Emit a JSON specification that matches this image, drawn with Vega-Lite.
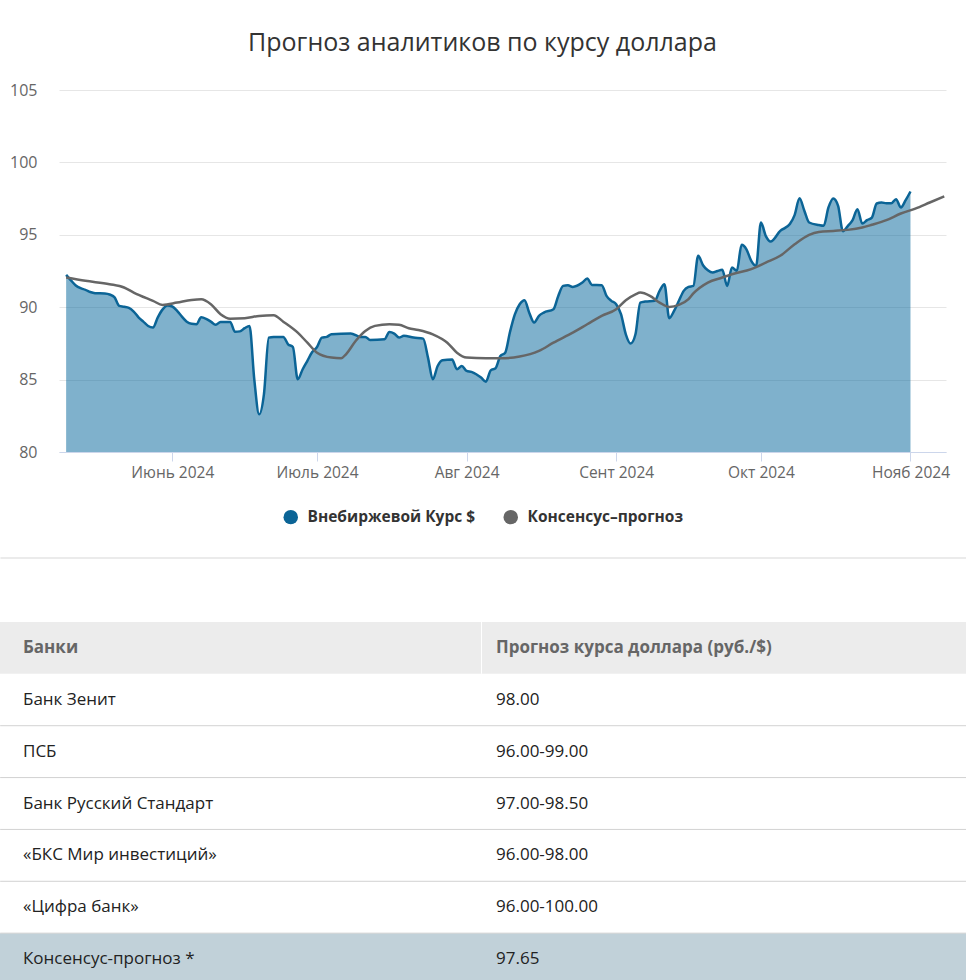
{
  "$schema": "https://vega.github.io/schema/vega-lite/v6.json",
  "background": "#ffffff",
  "padding": {"left": -2, "top": 31, "right": 0, "bottom": 0},
  "bounds": "flush",
  "spacing": 170,
  "config": {"view": {"stroke": null}, "font": "Open Sans"},
  "datasets": {
    "kurs": [
      {"date": "2024-05-10", "value": 92.23}, {"date": "2024-05-11", "value": 91.85}, {"date": "2024-05-12", "value": 91.5},
      {"date": "2024-05-13", "value": 91.31}, {"date": "2024-05-14", "value": 91.2}, {"date": "2024-05-15", "value": 91.05},
      {"date": "2024-05-16", "value": 90.97}, {"date": "2024-05-18", "value": 90.94}, {"date": "2024-05-19", "value": 90.88},
      {"date": "2024-05-20", "value": 90.7}, {"date": "2024-05-21", "value": 90.09}, {"date": "2024-05-22", "value": 90.03},
      {"date": "2024-05-23", "value": 89.95}, {"date": "2024-05-24", "value": 89.7}, {"date": "2024-05-25", "value": 89.3},
      {"date": "2024-05-26", "value": 89.0}, {"date": "2024-05-27", "value": 88.7}, {"date": "2024-05-28", "value": 88.6},
      {"date": "2024-05-29", "value": 89.3}, {"date": "2024-05-30", "value": 89.85}, {"date": "2024-05-31", "value": 90.12},
      {"date": "2024-06-01", "value": 90.05}, {"date": "2024-06-02", "value": 89.75}, {"date": "2024-06-03", "value": 89.35},
      {"date": "2024-06-04", "value": 89.0}, {"date": "2024-06-05", "value": 88.85}, {"date": "2024-06-06", "value": 88.82},
      {"date": "2024-06-07", "value": 89.3}, {"date": "2024-06-08", "value": 89.2}, {"date": "2024-06-09", "value": 89.0},
      {"date": "2024-06-10", "value": 88.78}, {"date": "2024-06-11", "value": 88.98}, {"date": "2024-06-13", "value": 88.98},
      {"date": "2024-06-14", "value": 88.3}, {"date": "2024-06-15", "value": 88.33}, {"date": "2024-06-16", "value": 88.55},
      {"date": "2024-06-17", "value": 88.7}, {"date": "2024-06-18", "value": 85.0}, {"date": "2024-06-19", "value": 82.6},
      {"date": "2024-06-20", "value": 84.0}, {"date": "2024-06-21", "value": 87.9}, {"date": "2024-06-22", "value": 87.95},
      {"date": "2024-06-24", "value": 87.95}, {"date": "2024-06-25", "value": 87.44}, {"date": "2024-06-26", "value": 87.25},
      {"date": "2024-06-27", "value": 85.02}, {"date": "2024-06-28", "value": 85.7}, {"date": "2024-06-29", "value": 86.3},
      {"date": "2024-06-30", "value": 86.9}, {"date": "2024-07-01", "value": 87.25}, {"date": "2024-07-02", "value": 87.9},
      {"date": "2024-07-03", "value": 87.95}, {"date": "2024-07-04", "value": 88.13}, {"date": "2024-07-08", "value": 88.18},
      {"date": "2024-07-10", "value": 87.95}, {"date": "2024-07-11", "value": 87.95}, {"date": "2024-07-12", "value": 87.74},
      {"date": "2024-07-15", "value": 87.79}, {"date": "2024-07-16", "value": 88.29}, {"date": "2024-07-17", "value": 88.18},
      {"date": "2024-07-18", "value": 87.9}, {"date": "2024-07-19", "value": 88.02}, {"date": "2024-07-21", "value": 87.9},
      {"date": "2024-07-23", "value": 87.83}, {"date": "2024-07-24", "value": 86.52}, {"date": "2024-07-25", "value": 85.02},
      {"date": "2024-07-26", "value": 85.94}, {"date": "2024-07-27", "value": 86.34}, {"date": "2024-07-29", "value": 86.38},
      {"date": "2024-07-30", "value": 85.71}, {"date": "2024-07-31", "value": 85.94}, {"date": "2024-08-01", "value": 85.6},
      {"date": "2024-08-02", "value": 85.53}, {"date": "2024-08-03", "value": 85.37}, {"date": "2024-08-04", "value": 85.14},
      {"date": "2024-08-05", "value": 84.86}, {"date": "2024-08-06", "value": 85.64}, {"date": "2024-08-07", "value": 85.78},
      {"date": "2024-08-08", "value": 86.63}, {"date": "2024-08-09", "value": 86.86}, {"date": "2024-08-10", "value": 88.3},
      {"date": "2024-08-11", "value": 89.5}, {"date": "2024-08-12", "value": 90.2}, {"date": "2024-08-13", "value": 90.48},
      {"date": "2024-08-14", "value": 89.6}, {"date": "2024-08-15", "value": 88.94}, {"date": "2024-08-16", "value": 89.4},
      {"date": "2024-08-17", "value": 89.63}, {"date": "2024-08-19", "value": 89.86}, {"date": "2024-08-20", "value": 90.78},
      {"date": "2024-08-21", "value": 91.47}, {"date": "2024-08-22", "value": 91.52}, {"date": "2024-08-23", "value": 91.4},
      {"date": "2024-08-25", "value": 91.7}, {"date": "2024-08-26", "value": 91.98}, {"date": "2024-08-27", "value": 91.54},
      {"date": "2024-08-29", "value": 91.52}, {"date": "2024-08-30", "value": 90.78}, {"date": "2024-08-31", "value": 90.44},
      {"date": "2024-09-01", "value": 90.21}, {"date": "2024-09-02", "value": 89.52}, {"date": "2024-09-03", "value": 88.13},
      {"date": "2024-09-04", "value": 87.49}, {"date": "2024-09-05", "value": 88.13}, {"date": "2024-09-06", "value": 90.32},
      {"date": "2024-09-07", "value": 90.39}, {"date": "2024-09-09", "value": 90.44}, {"date": "2024-09-10", "value": 91.13},
      {"date": "2024-09-11", "value": 91.59}, {"date": "2024-09-12", "value": 89.24}, {"date": "2024-09-13", "value": 89.74},
      {"date": "2024-09-14", "value": 90.44}, {"date": "2024-09-15", "value": 91.13}, {"date": "2024-09-16", "value": 91.4},
      {"date": "2024-09-17", "value": 91.47}, {"date": "2024-09-18", "value": 93.55}, {"date": "2024-09-19", "value": 92.9},
      {"date": "2024-09-20", "value": 92.55}, {"date": "2024-09-21", "value": 92.39}, {"date": "2024-09-22", "value": 92.5},
      {"date": "2024-09-23", "value": 92.58}, {"date": "2024-09-24", "value": 91.47}, {"date": "2024-09-25", "value": 92.74},
      {"date": "2024-09-26", "value": 92.51}, {"date": "2024-09-27", "value": 94.31}, {"date": "2024-09-28", "value": 94.0},
      {"date": "2024-09-29", "value": 93.2}, {"date": "2024-09-30", "value": 92.85}, {"date": "2024-10-01", "value": 95.85},
      {"date": "2024-10-02", "value": 94.93}, {"date": "2024-10-03", "value": 94.53}, {"date": "2024-10-05", "value": 95.27},
      {"date": "2024-10-07", "value": 95.74}, {"date": "2024-10-08", "value": 96.38}, {"date": "2024-10-09", "value": 97.53},
      {"date": "2024-10-10", "value": 96.66}, {"date": "2024-10-11", "value": 95.85}, {"date": "2024-10-13", "value": 95.67},
      {"date": "2024-10-14", "value": 95.62}, {"date": "2024-10-15", "value": 96.89}, {"date": "2024-10-16", "value": 97.51},
      {"date": "2024-10-17", "value": 97.0}, {"date": "2024-10-18", "value": 95.25}, {"date": "2024-10-19", "value": 95.6},
      {"date": "2024-10-20", "value": 96.01}, {"date": "2024-10-21", "value": 96.77}, {"date": "2024-10-22", "value": 95.78},
      {"date": "2024-10-23", "value": 96.01}, {"date": "2024-10-24", "value": 96.19}, {"date": "2024-10-25", "value": 97.16},
      {"date": "2024-10-26", "value": 97.23}, {"date": "2024-10-27", "value": 97.18}, {"date": "2024-10-28", "value": 97.18},
      {"date": "2024-10-29", "value": 97.46}, {"date": "2024-10-30", "value": 96.89}, {"date": "2024-10-31", "value": 97.39},
      {"date": "2024-11-01", "value": 97.99}
    ],
    "prognoz": [
      {"date": "2024-05-10", "value": 92.05}, {"date": "2024-05-14", "value": 91.82}, {"date": "2024-05-19", "value": 91.59},
      {"date": "2024-05-22", "value": 91.36}, {"date": "2024-05-24", "value": 91.01}, {"date": "2024-05-28", "value": 90.44},
      {"date": "2024-05-30", "value": 90.16}, {"date": "2024-06-02", "value": 90.32}, {"date": "2024-06-05", "value": 90.5},
      {"date": "2024-06-07", "value": 90.55}, {"date": "2024-06-09", "value": 90.21}, {"date": "2024-06-11", "value": 89.52},
      {"date": "2024-06-13", "value": 89.21}, {"date": "2024-06-16", "value": 89.24}, {"date": "2024-06-19", "value": 89.4},
      {"date": "2024-06-22", "value": 89.45}, {"date": "2024-06-24", "value": 89.0}, {"date": "2024-06-27", "value": 88.24},
      {"date": "2024-06-29", "value": 87.55}, {"date": "2024-07-01", "value": 86.86}, {"date": "2024-07-04", "value": 86.52},
      {"date": "2024-07-06", "value": 86.47}, {"date": "2024-07-07", "value": 86.75}, {"date": "2024-07-09", "value": 87.67},
      {"date": "2024-07-11", "value": 88.36}, {"date": "2024-07-13", "value": 88.71}, {"date": "2024-07-16", "value": 88.82},
      {"date": "2024-07-18", "value": 88.78}, {"date": "2024-07-20", "value": 88.55}, {"date": "2024-07-22", "value": 88.43},
      {"date": "2024-07-25", "value": 88.13}, {"date": "2024-07-28", "value": 87.55}, {"date": "2024-07-30", "value": 86.86},
      {"date": "2024-08-01", "value": 86.52}, {"date": "2024-08-05", "value": 86.47}, {"date": "2024-08-08", "value": 86.47},
      {"date": "2024-08-12", "value": 86.59}, {"date": "2024-08-16", "value": 86.98}, {"date": "2024-08-19", "value": 87.55},
      {"date": "2024-08-23", "value": 88.24}, {"date": "2024-08-26", "value": 88.82}, {"date": "2024-08-29", "value": 89.4},
      {"date": "2024-09-01", "value": 89.86}, {"date": "2024-09-03", "value": 90.48}, {"date": "2024-09-05", "value": 90.89},
      {"date": "2024-09-06", "value": 91.01}, {"date": "2024-09-08", "value": 90.78}, {"date": "2024-09-10", "value": 90.32},
      {"date": "2024-09-12", "value": 90.02}, {"date": "2024-09-14", "value": 90.16}, {"date": "2024-09-16", "value": 90.55},
      {"date": "2024-09-17", "value": 90.95}, {"date": "2024-09-20", "value": 91.7}, {"date": "2024-09-23", "value": 92.05},
      {"date": "2024-09-25", "value": 92.28}, {"date": "2024-09-29", "value": 92.63}, {"date": "2024-10-02", "value": 93.08},
      {"date": "2024-10-05", "value": 93.55}, {"date": "2024-10-08", "value": 94.35}, {"date": "2024-10-11", "value": 95.0},
      {"date": "2024-10-13", "value": 95.2}, {"date": "2024-10-16", "value": 95.27}, {"date": "2024-10-19", "value": 95.34},
      {"date": "2024-10-22", "value": 95.5}, {"date": "2024-10-24", "value": 95.69}, {"date": "2024-10-27", "value": 96.01},
      {"date": "2024-10-30", "value": 96.47}, {"date": "2024-11-02", "value": 96.81}, {"date": "2024-11-05", "value": 97.23},
      {"date": "2024-11-08", "value": 97.65}
    ],
    "legend": [
      {"series": "Внебиржевой Курс $", "date": "2024-05-10", "value": 92.23},
      {"series": "Консенсус–прогноз", "date": "2024-05-10", "value": 92.05}
    ],
    "table": [
      {"bank": "Банки", "forecast": "Прогноз курса доллара (руб./$)", "kind": "header"},
      {"bank": "Банк Зенит", "forecast": "98.00", "kind": "row"},
      {"bank": "ПСБ", "forecast": "96.00-99.00", "kind": "row"},
      {"bank": "Банк Русский Стандарт", "forecast": "97.00-98.50", "kind": "row"},
      {"bank": "«БКС Мир инвестиций»", "forecast": "96.00-98.00", "kind": "row"},
      {"bank": "«Цифра банк»", "forecast": "96.00-100.00", "kind": "row"},
      {"bank": "Консенсус-прогноз *", "forecast": "97.65", "kind": "consensus"}
    ]
  },
  "vconcat": [
    {
      "width": 887,
      "height": 362,
      "title": {
        "text": "Прогноз аналитиков по курсу доллара",
        "fontSize": 25,
        "fontWeight": "normal",
        "color": "#333333",
        "font": "Open Sans",
        "anchor": "middle",
        "frame": "group",
        "dx": -20,
        "offset": 26
      },
      "encoding": {
        "x": {
          "field": "date",
          "type": "temporal",
          "scale": {
            "type": "utc",
            "nice": false,
            "domain": [
              {"year": 2024, "month": 5, "date": 8, "hours": 12, "minutes": 30, "utc": true},
              {"year": 2024, "month": 11, "date": 8, "hours": 8, "minutes": 40, "utc": true}
            ]
          },
          "axis": {
            "title": null,
            "values": [
              {"year": 2024, "month": 6, "date": 1, "utc": true},
              {"year": 2024, "month": 7, "date": 1, "utc": true},
              {"year": 2024, "month": 8, "date": 1, "utc": true},
              {"year": 2024, "month": 9, "date": 1, "utc": true},
              {"year": 2024, "month": 10, "date": 1, "utc": true},
              {"year": 2024, "month": 11, "date": 1, "utc": true}
            ],
            "labelExpr": "['Янв','Фев','Март','Апр','Май','Июнь','Июль','Авг','Сент','Окт','Нояб','Дек'][utcmonth(datum.value)] + ' ' + utcyear(datum.value)",
            "grid": false,
            "domain": true,
            "domainColor": "#ccd6eb",
            "ticks": true,
            "tickColor": "#ccd6eb",
            "tickSize": 9,
            "labelFontSize": 15.5,
            "labelColor": "#666666",
            "labelPadding": 4,
            "labelFlush": false,
            "labelOverlap": false
          }
        },
        "y": {
          "field": "value",
          "type": "quantitative",
          "scale": {"domain": [80, 105], "zero": false, "nice": false},
          "axis": {
            "title": null,
            "values": [80, 85, 90, 95, 100, 105],
            "grid": true,
            "gridColor": "#e6e6e6",
            "domain": false,
            "ticks": false,
            "labelFontSize": 16,
            "labelColor": "#666666",
            "labelPadding": 22
          }
        }
      },
      "layer": [
        {
          "data": {"name": "kurs"},
          "mark": {"type": "area", "interpolate": "monotone", "color": "#00649a", "fillOpacity": 0.5},
          "encoding": {"y2": {"datum": 80}}
        },
        {
          "data": {"name": "kurs"},
          "mark": {"type": "line", "interpolate": "monotone", "color": "#0b6496", "strokeWidth": 2.5}
        },
        {
          "data": {"name": "prognoz"},
          "mark": {"type": "line", "interpolate": "monotone", "color": "#666666", "strokeWidth": 2.5}
        },
        {
          "data": {"name": "legend"},
          "mark": {"type": "point", "filled": true, "opacity": 0},
          "encoding": {
            "color": {
              "field": "series",
              "type": "nominal",
              "scale": {"domain": ["Внебиржевой Курс $", "Консенсус–прогноз"], "range": ["#0b6496", "#666666"]},
              "legend": {
                "orient": "none",
                "legendX": 224,
                "legendY": 419,
                "direction": "horizontal",
                "title": null,
                "padding": 0,
                "symbolType": "circle",
                "symbolSize": 210,
                "symbolOpacity": 1,
                "symbolStrokeWidth": 0,
                "labelFontSize": 15.5,
                "labelFontWeight": "bold",
                "labelColor": "#333333",
                "labelLimit": 400,
                "labelOffset": 9,
                "columnPadding": 27
              }
            }
          }
        }
      ]
    },
    {
      "width": 887,
      "height": 363,
      "data": {"name": "table"},
      "encoding": {
        "y": {
          "field": "bank",
          "type": "nominal",
          "scale": {
            "type": "band",
            "domain": ["Банки", "Банк Зенит", "ПСБ", "Банк Русский Стандарт", "«БКС Мир инвестиций»", "«Цифра банк»", "Консенсус-прогноз *"],
            "paddingInner": 0,
            "paddingOuter": 0
          },
          "axis": null
        }
      },
      "layer": [
        {
          "transform": [{"filter": "datum.kind === 'header'"}],
          "mark": {"type": "rect", "color": "#ececec"},
          "encoding": {
            "x": {"datum": 0, "type": "quantitative", "scale": {"domain": [0.062048, 0.979317], "nice": false, "zero": false}, "axis": null},
            "x2": {"datum": 1}
          }
        },
        {
          "transform": [{"filter": "datum.kind === 'consensus'"}],
          "mark": {"type": "rect", "color": "#c1d1d9"},
          "encoding": {
            "x": {"datum": 0, "type": "quantitative", "scale": {"domain": [0.062048, 0.979317], "nice": false, "zero": false}, "axis": null},
            "x2": {"datum": 1}
          }
        },
        {
          "transform": [{"filter": "datum.kind === 'header'"}],
          "mark": {"type": "rect", "color": "#ffffff"},
          "encoding": {
            "x": {"datum": 0.49845, "type": "quantitative", "scale": {"domain": [0.062048, 0.979317], "nice": false, "zero": false}, "axis": null},
            "x2": {"datum": 0.49948}
          }
        },
        {
          "transform": [{"filter": "datum.kind === 'row'"}],
          "mark": {"type": "rule", "color": "#d2d2d2", "strokeWidth": 1},
          "encoding": {
            "x": {"datum": 0.0012, "type": "quantitative", "scale": {"domain": [0.062048, 0.979317], "nice": false, "zero": false}, "axis": null},
            "x2": {"datum": 1},
            "y": {
              "field": "bank",
              "type": "nominal",
              "bandPosition": 1,
              "scale": {
                "type": "band",
                "domain": ["Банки", "Банк Зенит", "ПСБ", "Банк Русский Стандарт", "«БКС Мир инвестиций»", "«Цифра банк»", "Консенсус-прогноз *"],
                "paddingInner": 0,
                "paddingOuter": 0
              },
              "axis": null
            }
          }
        },
        {
          "transform": [{"filter": "datum.kind === 'header'"}],
          "mark": {"type": "rule", "color": "#ebebeb", "strokeWidth": 2, "yOffset": -64},
          "encoding": {
            "x": {"datum": 0.0015, "type": "quantitative", "scale": {"domain": [0.062048, 0.979317], "nice": false, "zero": false}, "axis": null},
            "x2": {"datum": 1},
            "y": {
              "field": "bank",
              "type": "nominal",
              "bandPosition": 0,
              "scale": {
                "type": "band",
                "domain": ["Банки", "Банк Зенит", "ПСБ", "Банк Русский Стандарт", "«БКС Мир инвестиций»", "«Цифра банк»", "Консенсус-прогноз *"],
                "paddingInner": 0,
                "paddingOuter": 0
              },
              "axis": null
            }
          }
        },
        {
          "transform": [{"filter": "datum.kind === 'header'"}],
          "mark": {"type": "text", "align": "left", "baseline": "middle", "fontSize": 17, "fontWeight": "bold", "color": "#666666"},
          "encoding": {
            "x": {"datum": 0.02482, "type": "quantitative", "scale": {"domain": [0.062048, 0.979317], "nice": false, "zero": false}, "axis": null},
            "text": {"field": "bank"}
          }
        },
        {
          "transform": [{"filter": "datum.kind === 'header'"}],
          "mark": {"type": "text", "align": "left", "baseline": "middle", "fontSize": 17, "fontWeight": "bold", "color": "#666666"},
          "encoding": {
            "x": {"datum": 0.51396, "type": "quantitative", "scale": {"domain": [0.062048, 0.979317], "nice": false, "zero": false}, "axis": null},
            "text": {"field": "forecast"}
          }
        },
        {
          "transform": [{"filter": "datum.kind !== 'header'"}],
          "mark": {"type": "text", "align": "left", "baseline": "middle", "fontSize": 17, "color": "#222222"},
          "encoding": {
            "x": {"datum": 0.02482, "type": "quantitative", "scale": {"domain": [0.062048, 0.979317], "nice": false, "zero": false}, "axis": null},
            "text": {"field": "bank"}
          }
        },
        {
          "transform": [{"filter": "datum.kind !== 'header'"}],
          "mark": {"type": "text", "align": "left", "baseline": "middle", "fontSize": 17, "color": "#222222"},
          "encoding": {
            "x": {"datum": 0.51396, "type": "quantitative", "scale": {"domain": [0.062048, 0.979317], "nice": false, "zero": false}, "axis": null},
            "text": {"field": "forecast"}
          }
        }
      ]
    }
  ]
}
